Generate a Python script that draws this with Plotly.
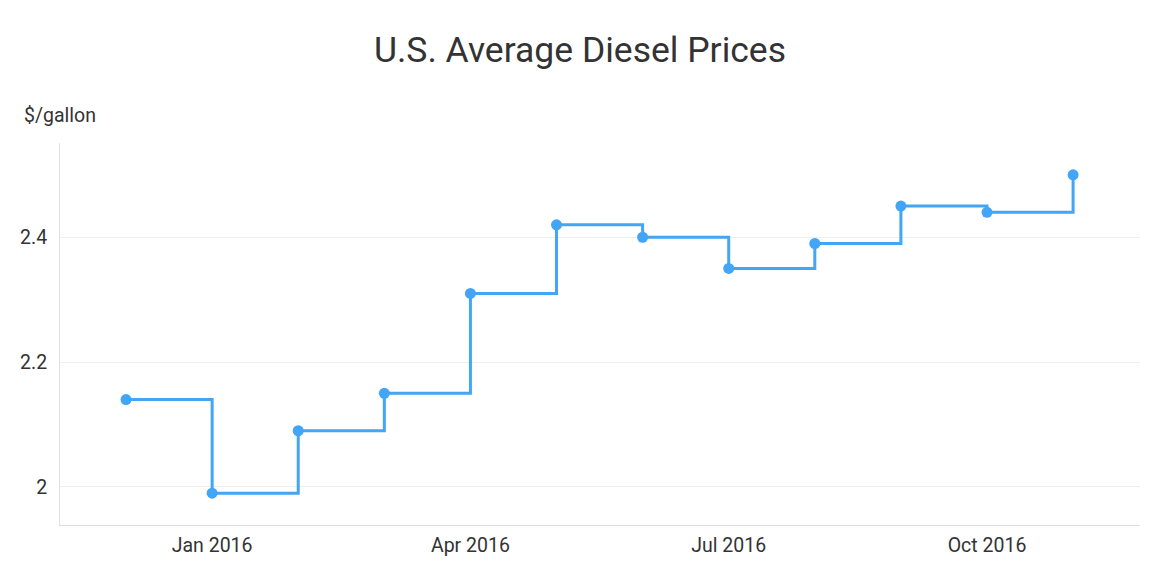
import plotly.graph_objects as go

months = ["Dec 2015", "Jan 2016", "Feb 2016", "Mar 2016", "Apr 2016", "May 2016",
          "Jun 2016", "Jul 2016", "Aug 2016", "Sep 2016", "Oct 2016", "Nov 2016"]
prices = [2.14, 1.99, 2.09, 2.15, 2.31, 2.42, 2.40, 2.35, 2.39, 2.45, 2.44, 2.50]
y_ticks = [2.0, 2.2, 2.4]
y_tick_labels = ["2", "2.2", "2.4"]
x_ticks = ["Jan 2016", "Apr 2016", "Jul 2016", "Oct 2016"]

W, H = 1160, 576
ml, mr, mt, mb = 60, 20, 143, 51
FS = 19.5

fig = go.Figure()
fig.add_trace(go.Scatter(
    x=months, y=prices, mode="lines+markers",
    line=dict(shape="hv", color="#42A5F5", width=3),
    marker=dict(size=11, color="#42A5F5"),
    hoverinfo="x+y",
))

fig.update_layout(
    width=W, height=H,
    margin=dict(l=ml, r=mr, t=mt, b=mb, pad=0),
    paper_bgcolor="white", plot_bgcolor="white",
    font=dict(family="Roboto", size=FS, color="#333333"),
    showlegend=False,
    title=dict(text="U.S. Average Diesel Prices", x=0.5, xanchor="center",
               y=1 - 50 / H, yanchor="middle",
               font=dict(family="Roboto", size=35.5, color="#333333")),
    xaxis=dict(
        type="category", categoryorder="array", categoryarray=months,
        range=[-0.767, 11.777],
        tickvals=x_ticks, ticktext=x_ticks,
        showgrid=False, showline=True, linecolor="#e0e0e0", linewidth=1,
        ticks="outside", ticklen=3, tickcolor="rgba(0,0,0,0)", zeroline=False,
        tickfont=dict(size=FS, color="#333333"),
    ),
    yaxis=dict(
        range=[1.939, 2.551],
        tickvals=y_ticks, ticktext=y_tick_labels,
        showgrid=True, gridcolor="#eeeeee", gridwidth=1,
        showline=True, linecolor="#e0e0e0", linewidth=1,
        ticks="outside", ticklen=8, tickcolor="rgba(0,0,0,0)",
        zeroline=False,
        tickfont=dict(size=FS, color="#333333"),
    ),
    annotations=[dict(
        text="$/gallon", xref="paper", yref="paper",
        x=(22 - ml) / (W - ml - mr), y=(H - mb - 115) / (H - mt - mb),
        xanchor="left", yanchor="middle", showarrow=False,
        font=dict(family="Roboto", size=FS, color="#333333"),
    )],
)

fig.write_html("out.html")
